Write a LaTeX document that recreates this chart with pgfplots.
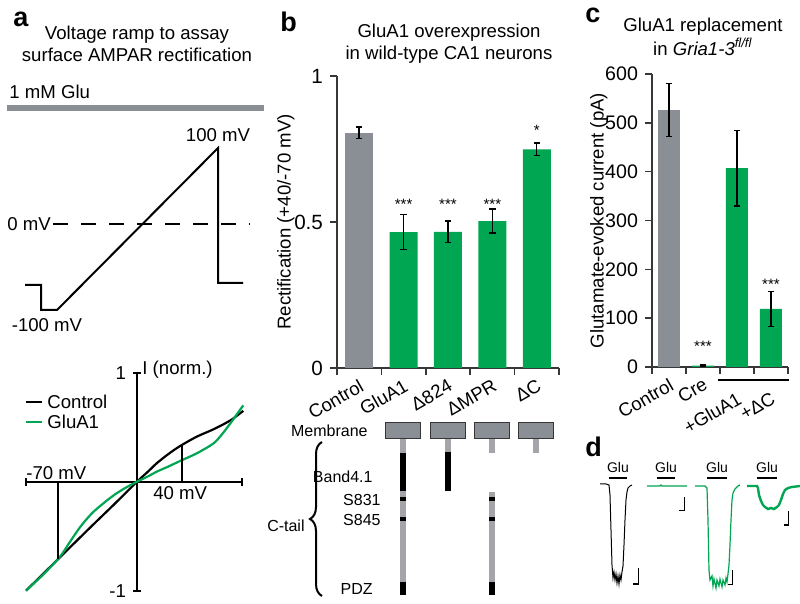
\documentclass[border=0pt]{standalone}
\usepackage{pgfplots}
\pgfplotsset{compat=1.18}
\usepackage{fontspec}
\setmainfont{Liberation Sans}
\usetikzlibrary{decorations.pathreplacing}
\definecolor{bargray}{RGB}{137,143,149}
\definecolor{bargreen}{RGB}{0,166,81}
\definecolor{tailgray}{RGB}{163,165,168}
\definecolor{axgray}{RGB}{55,55,55}
\newcommand{\tf}{\fontsize{9.3}{11}\selectfont}
\newcommand{\smf}{\fontsize{8}{9.6}\selectfont}
\newcommand{\tkf}{\fontsize{10.3}{12}\selectfont}
\newcommand{\tkc}{\fontsize{9.8}{12}\selectfont}
\newcommand{\stf}{\fontsize{7.5}{9}\selectfont}
\newcommand{\glf}{\fontsize{7}{8}\selectfont}
\newcommand{\lf}{\fontsize{13.5}{15}\selectfont\bfseries}
\pgfplotsset{errstyle/.style={error bars/.cd, y dir=both, y explicit,
  error bar style={black, line width=0.7pt},
  error mark options={rotate=90, black, mark size=1.6pt, line width=0.7pt}}}
\begin{document}
\begin{tikzpicture}
\path[use as bounding box] (0,0) rectangle (400pt,302pt);
% ---------------- overlay axis in pixel coordinates ----------------
\begin{axis}[at={(0pt,0pt)}, anchor=south west, scale only axis, width=400pt, height=302pt,
  xmin=0, xmax=800, ymin=0, ymax=604, y dir=reverse, hide axis, clip=false]
% panel letters
\node[anchor=base west, inner sep=0, font=\lf] at (axis cs:13,27) {a};
\node[anchor=base west, inner sep=0, font=\lf] at (axis cs:280,32) {b};
\node[anchor=base west, inner sep=0, font=\lf] at (axis cs:585,23) {c};
\node[anchor=base west, inner sep=0, font=\lf] at (axis cs:585,457) {d};
% titles
\node[align=center, inner sep=0, font=\tf] at (axis cs:137,44) {Voltage ramp to assay\\surface AMPAR rectification};
\node[align=center, inner sep=0, font=\tf] at (axis cs:449,44) {GluA1 overexpression\\in wild-type CA1 neurons};
\node[align=center, inner sep=0, font=\fontsize{9.3}{12}\selectfont] at (axis cs:703,37) {GluA1 replacement\\in \textit{Gria1-3}\textsuperscript{\textit{fl/fl}}};
% panel a: ramp protocol
\addplot[bargray, line width=3pt] coordinates {(7,108) (264,108)};
\node[anchor=west, inner sep=0, font=\tf] at (axis cs:9,92) {1 mM Glu};
\addplot[black, line width=1pt, line join=miter] coordinates {(25,285) (41,285) (41,310) (57,310) (218,148) (218,283) (243,283)};
\addplot[black, line width=1pt, dash pattern=on 7.5pt off 6.5pt] coordinates {(53,224) (250,224)};
\node[anchor=west, inner sep=0, font=\tf] at (axis cs:7,224) {0 mV};
\node[inner sep=0, font=\tf] at (axis cs:218,135) {100 mV};
\node[inner sep=0, font=\tf] at (axis cs:47,325) {-100 mV};
% panel a: IV legend and labels
\addplot[black, line width=1.1pt] coordinates {(26,402) (42,402)};
\addplot[bargreen, line width=1.1pt] coordinates {(26,422) (42,422)};
\node[anchor=west, inner sep=0, font=\tf] at (axis cs:47,402) {Control};
\node[anchor=west, inner sep=0, font=\tf] at (axis cs:47,422) {GluA1};
\node[anchor=west, inner sep=0, font=\tf] at (axis cs:142,370) {I (norm.)};
\node[anchor=west, inner sep=0, font=\tf] at (axis cs:26,473) {-70 mV};
\node[anchor=west, inner sep=0, font=\tf] at (axis cs:153,493) {40 mV};
% panel b: schematic
\addplot[fill=bargray, draw=axgray, line width=0.5pt] coordinates {(385,423) (420,423) (420,439) (385,439)} -- cycle;
\addplot[fill=bargray, draw=axgray, line width=0.5pt] coordinates {(430,423) (465,423) (465,439) (430,439)} -- cycle;
\addplot[fill=bargray, draw=axgray, line width=0.5pt] coordinates {(474,423) (509,423) (509,439) (474,439)} -- cycle;
\addplot[fill=bargray, draw=axgray, line width=0.5pt] coordinates {(518,423) (553,423) (553,439) (518,439)} -- cycle;
% column 1: full GluA1
\addplot[tailgray, line width=3pt] coordinates {(403.3,439.5) (403.3,595)};
\addplot[black, line width=3pt] coordinates {(403.3,453) (403.3,491)};
\addplot[black, line width=3pt] coordinates {(403.3,497) (403.3,501)};
\addplot[black, line width=3pt] coordinates {(403.3,517) (403.3,521)};
\addplot[black, line width=3pt] coordinates {(403.3,582) (403.3,595)};
% column 2: delta 824
\addplot[tailgray, line width=3pt] coordinates {(448.3,439.5) (448.3,452)};
\addplot[black, line width=3pt] coordinates {(448.3,452) (448.3,491)};
% column 3: delta MPR
\addplot[tailgray, line width=3pt] coordinates {(491.7,439.5) (491.7,452.7)};
\addplot[tailgray, line width=3pt] coordinates {(491.7,491.7) (491.7,595)};
\addplot[black, line width=3pt] coordinates {(491.7,497) (491.7,501)};
\addplot[black, line width=3pt] coordinates {(491.7,517) (491.7,521)};
\addplot[black, line width=3pt] coordinates {(491.7,582) (491.7,595)};
% column 4: delta C
\addplot[tailgray, line width=3pt] coordinates {(535.7,439.5) (535.7,452.7)};
\node[anchor=east, inner sep=0, font=\smf] at (axis cs:368,431) {Membrane};
\node[anchor=east, inner sep=0, font=\smf] at (axis cs:373,477) {Band4.1};
\node[anchor=east, inner sep=0, font=\smf] at (axis cs:381,500) {S831};
\node[anchor=east, inner sep=0, font=\smf] at (axis cs:381,520) {S845};
\node[anchor=east, inner sep=0, font=\smf] at (axis cs:373,589) {PDZ};
\node[anchor=east, inner sep=0, font=\smf] at (axis cs:305,526) {C-tail};
\addplot[black, line width=1pt, decorate, decoration={brace, amplitude=6pt}] coordinates {(322,596) (322,442)};
% panel c: bracket line
\addplot[black, line width=0.9pt] coordinates {(718,380) (789,380)};
% panel d: traces
\addplot[black, line width=0.5pt] coordinates {(600,484) (606,484) (609,485) (610,495) (611,530) (612,565) (613,578) (614,572) (615,580) (616,574) (617,583) (618,576) (619,584) (620,575) (621,580) (622,572) (623,566) (624,545) (625,520) (626,500) (627,492) (628,488) (630,486) (632,485)};
\addplot[bargreen, line width=0.6pt] coordinates {(647,486) (660,486) (661,485) (662,486) (687,486)};
\addplot[bargreen, line width=0.6pt] coordinates {(695,486) (705,486) (707,488) (708,520) (709,570) (710,580) (712,576) (713,586) (714,579) (716,588) (717,580) (719,586) (720,579) (722,587) (723,580) (725,585) (726,578) (727,582) (728,574) (729,565) (730,545) (731,520) (732,500) (733,493) (735,489) (738,486) (740,485)};
\addplot[bargreen, line width=1.2pt] coordinates {(747,486) (757,486) (758,488) (759,495) (761,501) (763,505) (765,507) (768,509) (771,508) (774,509) (777,507) (779,505) (781,500) (783,494) (785,490) (788,488) (792,487) (800,486)};
% Glu bars
\addplot[black, line width=1.3pt] coordinates {(609,478) (627,478)};
\addplot[black, line width=1.3pt] coordinates {(657,478) (675,478)};
\addplot[black, line width=1.3pt] coordinates {(707,478) (727,478)};
\addplot[black, line width=1.3pt] coordinates {(757,478) (777,478)};
\node[anchor=base, inner sep=0, font=\glf] at (axis cs:618,473) {Glu};
\node[anchor=base, inner sep=0, font=\glf] at (axis cs:666,473) {Glu};
\node[anchor=base, inner sep=0, font=\glf] at (axis cs:717,473) {Glu};
\node[anchor=base, inner sep=0, font=\glf] at (axis cs:767,473) {Glu};
% scale bars
\addplot[black, line width=0.6pt] coordinates {(633,584) (638.3,584) (638.3,568)};
\addplot[black, line width=0.6pt] coordinates {(679.3,510.7) (684.3,510.7) (684.3,496.7)};
\addplot[black, line width=0.6pt] coordinates {(727.7,584.3) (732.7,584.3) (732.7,570)};
\addplot[black, line width=0.6pt] coordinates {(784,525) (788.3,525) (788.3,510.7)};
\end{axis}
% ---------------- panel a: IV curve ----------------
\begin{axis}[at={(13pt,6.65pt)}, anchor=south west, scale only axis, width=108.2pt, height=109pt,
  xmin=-98.5, xmax=93.5, ymin=-1, ymax=1, axis lines*=middle, clip=false,
  axis line style={black, line width=1pt}, tick style={black, line width=1pt},
  tick align=center, major tick length=4pt,
  xtick={-98.5,93.5}, xticklabels={}, ytick={-1,1}, yticklabels={-1,1},
  yticklabel style={font=\tf}]
\addplot[black, line width=1.1pt, smooth] coordinates {(-98.5,-1.0) (-70,-0.71) (-40,-0.405) (-20,-0.205) (0,0) (10,0.095) (17.5,0.169) (28,0.255) (38.2,0.327) (53,0.413) (67.7,0.48) (82.5,0.56) (94.3,0.65)};
\addplot[bargreen, line width=1.1pt, smooth] coordinates {(-98.5,-1.0) (-85,-0.87) (-75,-0.765) (-70,-0.71) (-65,-0.64) (-60,-0.56) (-50,-0.41) (-40,-0.29) (-30,-0.2) (-20,-0.12) (-10,-0.055) (0,0) (10,0.05) (17.5,0.092) (28,0.14) (38.2,0.19) (53,0.26) (67.7,0.35) (75,0.43) (82.5,0.53) (88,0.61) (94.3,0.70)};
\addplot[black, line width=1pt] coordinates {(-70,0) (-70,-0.71)};
\addplot[black, line width=1pt] coordinates {(40,0) (40,0.337)};
\end{axis}
% ---------------- panel b: rectification bars ----------------
\begin{axis}[at={(168.5pt,118pt)}, anchor=south west, scale only axis, width=111pt, height=146pt,
  xmin=-0.5, xmax=4.5, ymin=0, ymax=1, clip=false,
  axis x line*=bottom, axis y line*=left,
  axis line style={axgray, line width=0.8pt}, tick style={axgray, line width=0.8pt},
  tick align=outside, major tick length=3.5pt, minor tick length=3.5pt,
  ytick={0,0.5,1}, yticklabels={0,0.5,1},
  xtick={0,1,2,3,4}, xticklabels={Control,GluA1,Δ824,ΔMPR,ΔC},
  minor xtick={-0.5,0.5,1.5,2.5,3.5,4.5},
  major x tick style={draw=none},
  xticklabel style={font=\tf, rotate=30, anchor=north east, inner sep=1pt},
  yticklabel style={font=\tkf},
  ylabel={Rectification (+40/-70 mV)}, ylabel style={font=\tf}, ylabel shift=-7pt]
\addplot[ybar, bar shift=0pt, bar width=14pt, fill=bargray, draw=none, errstyle]
  coordinates {(0,0.805) +- (0,0.02)};
\addplot[ybar, bar shift=0pt, bar width=14pt, fill=bargreen, draw=none, errstyle]
  coordinates {(1,0.465) +- (0,0.06) (2,0.466) +- (0,0.037) (3,0.503) +- (0,0.041) (4,0.749) +- (0,0.022)};
\node[anchor=base, inner sep=0, font=\stf] at (axis cs:1,0.542) {***};
\node[anchor=base, inner sep=0, font=\stf] at (axis cs:2,0.542) {***};
\node[anchor=base, inner sep=0, font=\stf] at (axis cs:3,0.542) {***};
\node[anchor=base, inner sep=0, font=\stf] at (axis cs:4,0.796) {*};
\end{axis}
% ---------------- panel c: glutamate current bars ----------------
\begin{axis}[at={(326pt,118.5pt)}, anchor=south west, scale only axis, width=68pt, height=146.5pt,
  xmin=-0.5, xmax=3.5, ymin=0, ymax=600, clip=false,
  axis x line*=bottom, axis y line*=left,
  axis line style={axgray, line width=0.8pt}, tick style={axgray, line width=0.8pt},
  tick align=outside, major tick length=3.5pt, minor tick length=3.5pt,
  ytick={0,100,200,300,400,500,600}, yticklabels={0,100,200,300,400,500,600},
  xtick={0,1,2,3}, xticklabels={Control,Cre,+GluA1,+ΔC},
  minor xtick={-0.5,0.5,1.5,2.5,3.5},
  major x tick style={draw=none},
  xticklabel style={font=\tf, yshift={ifthenelse(\ticknum>1,-7,0)}, rotate=30, anchor=north east, inner sep=1pt},
  yticklabel style={font=\tkc},
  ylabel={Glutamate-evoked current (pA)}, ylabel style={font=\tf}, ylabel shift=-8pt]
\addplot[ybar, bar shift=0pt, bar width=11pt, fill=bargray, draw=none, errstyle]
  coordinates {(0,526) +- (0,54)};
\addplot[ybar, bar shift=0pt, bar width=11pt, fill=bargreen, draw=none, errstyle]
  coordinates {(1,3) +- (0,1) (2,407) +- (0,77) (3,119) +- (0,36)};
\node[anchor=base, inner sep=0, font=\stf] at (axis cs:1,31.5) {***};
\node[anchor=base, inner sep=0, font=\stf] at (axis cs:3,158.6) {***};
\end{axis}
\end{tikzpicture}
\end{document}
